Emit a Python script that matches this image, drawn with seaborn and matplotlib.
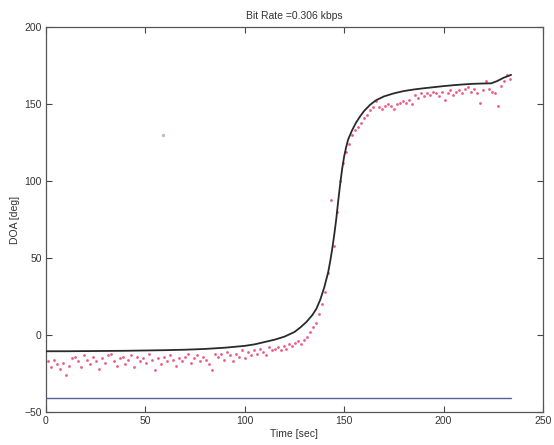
import numpy as np
import pandas as pd
import matplotlib
matplotlib.use("Agg")
import matplotlib.pyplot as plt
import seaborn as sns

# ---- data ----
title = "Bit Rate =0.306 kbps"
x_label = "Time [sec]"
y_label = "DOA [deg]"
x_ticks = [0, 50, 100, 150, 200, 250]
y_ticks = [-50, 0, 50, 100, 150, 200]

# estimated (smoothed) track
track_t = [0, 10, 20, 30, 40, 50, 60, 70, 80, 90, 100, 105, 110, 115, 120, 125, 128,
           131, 134, 136, 138, 140, 142, 143, 144, 145, 146, 147, 148, 149, 150, 151,
           152, 154, 156, 158, 160, 163, 166, 170, 175, 180, 185, 190, 195, 200, 205,
           210, 215, 220, 224, 227, 230, 232, 234]
track_v = [-10.5, -10.5, -10.4, -10.3, -10.2, -10.0, -9.8, -9.5, -9.0, -8.2, -7.0, -6.0,
           -4.5, -3.0, -1.0, 2.0, 5.0, 8.5, 13, 17, 23, 31, 41, 48, 56, 65, 75, 87, 98,
           108, 116, 122, 127, 133, 138, 142, 145.5, 149.5, 152.5, 155, 157, 158.5,
           159.5, 160.3, 161, 161.7, 162.3, 162.8, 163.2, 163.4, 163.5, 165, 167, 168, 169]

# raw DOA estimates (one every 1.5 s starting at 1 s)
raw_start = 1.0
raw_step = 1.5
raw_v = [-17, -21, -16, -19, -22, -18, -26, -20, -15, -14,
         -17, -21, -13, -16, -19, -14, -17, -22, -15, -18,
         -13, -12, -17, -20, -15, -14, -19, -16, -13, -21,
         -14, -17, -15, -18, -12, -16, -23, -15, -19, -14,
         -17, -13, -16, -20, -15, -17, -14, -12, -18, -15,
         -13, -17, -14, -16, -19, -23, -12, -14, -12, -16,
         -11, -13, -17, -12, -14, -10, -15, -11, -13, -10,
         -12, -9, -11, -13, -8, -10, -9, -8, -10, -7,
         -9, -6, -7, -5, -4, -6, -3, -1, 2, 5,
         8, 14, 20, 28, 40, 88, 58, 80, 100, 112,
         119, 124, 130, 133, 135, 138, 141, 143, 146, 148,
         152, 148, 147, 149, 150, 149, 147, 150, 151, 152,
         151, 153, 150, 156, 154, 157, 155, 157, 156, 158,
         157, 155, 158, 153, 157, 159, 156, 158, 159, 157,
         160, 161, 158, 160, 157, 151, 159, 165, 160, 158,
         157, 149, 162, 165, 169, 166]
raw_t = raw_start + raw_step * np.arange(len(raw_v))

stray_t = [59]
stray_v = [130]

# reference (true) line
ref_t = [0, 234]
ref_v = [-41, -41]

# ---- plot ----
sns.set_style("ticks")
plt.rcParams['font.family'] = ['Liberation Sans', 'DejaVu Sans']
plt.rcParams['font.size'] = 7.5

fig = plt.figure(figsize=(5.54, 4.45), dpi=100)
ax = fig.add_axes([0.083, 0.074, 0.897, 0.865])

sns.scatterplot(x=raw_t, y=raw_v, ax=ax, color="#ea5c86", s=4, linewidth=0,
                marker="o", legend=False, zorder=2)
sns.scatterplot(x=stray_t, y=stray_v, ax=ax, color="#c8b8c0", s=6, linewidth=0,
                legend=False, zorder=2)
sns.lineplot(x=track_t, y=track_v, ax=ax, color="#2a2a2a", linewidth=1.3,
             estimator=None, sort=False, zorder=3)
sns.lineplot(x=ref_t, y=ref_v, ax=ax, color="#55609a", linewidth=1.0,
             estimator=None, sort=False, zorder=3)

ax.set_xlim(0, 250)
ax.set_ylim(-50, 200)
ax.set_xticks(x_ticks)
ax.set_yticks(y_ticks)
ax.tick_params(direction="in", top=True, right=True, length=4, width=0.8,
               colors="#444444", labelsize=7.5, labelcolor="#333333", pad=3)
for sp in ax.spines.values():
    sp.set_visible(True)
    sp.set_color("#555555")
    sp.set_linewidth(0.9)

ax.set_title(title, fontsize=7.5, color="#333333", pad=6)
ax.set_xlabel(x_label, fontsize=7.5, color="#333333", labelpad=2)
ax.set_ylabel(y_label, fontsize=7.5, color="#333333", labelpad=3)

fig.savefig("out.png", dpi=100)
